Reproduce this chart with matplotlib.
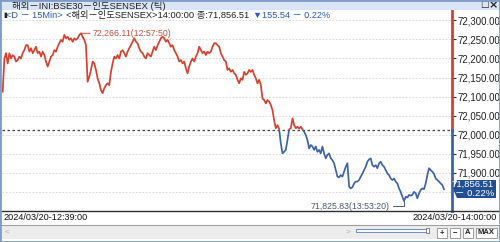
import matplotlib.pyplot as plt
import numpy as np
from matplotlib.patches import Rectangle, Polygon
from matplotlib.lines import Line2D

plt.rcParams['font.family'] = ['Liberation Sans', 'Noto Sans CJK KR', 'DejaVu Sans']

# tick-by-tick prices (12:39:00 -> 14:00:00)
prices = [
    72113, 72200, 72214, 72187, 72214, 72200, 72209, 72205, 72192, 72196,
    72205, 72200, 72214, 72222, 72235, 72235, 72218, 72227, 72214, 72222,
    72231, 72214, 72218, 72205, 72218, 72209, 72192, 72179, 72192, 72205,
    72209, 72222, 72218, 72231, 72240, 72249, 72244, 72262, 72253, 72257,
    72249, 72253, 72244, 72253, 72249, 72253, 72262, 72266.11, 72257, 72249,
    72235, 72139, 72152, 72170, 72192, 72187, 72170, 72148, 72135, 72117,
    72109, 72122, 72130, 72135, 72130, 72165, 72187, 72205, 72200, 72209,
    72200, 72218, 72222, 72214, 72205, 72218, 72227, 72235, 72244, 72253,
    72244, 72240, 72227, 72218, 72214, 72205, 72200, 72214, 72209, 72205,
    72218, 72231, 72222, 72235, 72244, 72253, 72257, 72253, 72244, 72249,
    72240, 72231, 72235, 72222, 72214, 72205, 72192, 72196, 72187, 72192,
    72174, 72161, 72179, 72192, 72200, 72192, 72205, 72214, 72231, 72222,
    72214, 72218, 72209, 72218, 72214, 72218, 72231, 72240, 72240, 72235,
    72231, 72214, 72205, 72196, 72192, 72170, 72174, 72165, 72170, 72161,
    72157, 72144, 72135, 72148, 72144, 72165, 72157, 72161, 72170,
    72165, 72170, 72157, 72148, 72135, 72144, 72130, 72095, 72091, 72082,
    72091, 72087, 72078, 72065, 72038,
    72017, 72025, 72015, 71977, 71951, 71955, 71960, 71986, 72014, 72017,
    72043, 72025, 72017, 72021, 72016, 72021, 72014, 72008, 71999, 71986,
    71964, 71973, 71969, 71960, 71969, 71955, 71960, 71951, 71969, 71951,
    71938, 71947, 71951, 71938, 71933, 71925, 71907, 71890, 71888, 71894,
    71890, 71903, 71916, 71925, 71864, 71859, 71862, 71872, 71877, 71877,
    71881, 71890, 71898, 71907, 71916, 71929, 71935, 71938, 71920, 71916,
    71920, 71912, 71925, 71929, 71920, 71916, 71907, 71898, 71894, 71885,
    71881, 71885, 71877, 71872, 71859, 71850, 71837, 71825.83, 71837, 71835,
    71842, 71840, 71842, 71850, 71846, 71833, 71846, 71855, 71859, 71857,
    71872, 71894, 71912, 71907, 71903, 71897, 71885, 71881, 71877, 71872,
    71868, 71856.51,
]
prev_close = 72012.05
grid_levels = [71850, 71900, 71950, 72000, 72050, 72100, 72150, 72200, 72250, 72300]
tick_levels = [71900, 71950, 72000, 72050, 72100, 72150, 72200, 72250, 72300]
start_label = "2024/03/20-12:39:00"
end_label = "2024/03/20-14:00:00"
max_time = "12:57:50"
min_time = "13:53:20"
title = "해외－INI:BSE30－인도SENSEX (틱)"

RED = '#d8402e'
BLUE = '#3f63ab'
W, H = 500, 242


def fx(x):
    return x / W


def fy(y):
    return 1 - y / H


def main():
    fig = plt.figure(figsize=(5, 2.42), dpi=100)
    fig.patch.set_facecolor('white')
    ax = fig.add_axes([fx(2), fy(211), 450 / W, 201 / H])

    n = len(prices)
    x = np.arange(n)
    dx = (444 - 2.7) / (n - 1)
    xmin, xmax = (2 - 2.7) / dx, (452 - 2.7) / dx
    ymin, ymax = 71799.7, 72327.3
    ax.set_xlim(xmin, xmax)
    ax.set_ylim(ymin, ymax)

    for g in grid_levels:
        ax.axhline(g, color='#d4d4d4', lw=0.6, ls=(0, (2, 2)), zorder=1)
    ax.axhline(prev_close, color='#404040', lw=0.9, ls=(0, (2, 2)), zorder=2)

    up = Rectangle((xmin, prev_close), xmax - xmin, ymax - prev_close,
                   transform=ax.transData)
    dn = Rectangle((xmin, ymin), xmax - xmin, prev_close - ymin,
                   transform=ax.transData)
    lr, = ax.plot(x, prices, color=RED, lw=1.25, zorder=3)
    lr.set_clip_path(up)
    lb, = ax.plot(x, prices, color=BLUE, lw=1.25, zorder=3)
    lb.set_clip_path(dn)

    # right axis line, red above / blue below previous close
    ax.plot([xmax, xmax], [prev_close, ymax], color=RED, lw=2, clip_on=False, zorder=4)
    ax.plot([xmax, xmax], [ymin, prev_close], color=BLUE, lw=2, clip_on=False, zorder=4)

    for s in ax.spines.values():
        s.set_visible(False)
    ax.set_xticks([])
    ax.set_yticks(tick_levels)
    ax.set_yticklabels([f"{v:,.2f}" for v in tick_levels])
    ax.tick_params(axis='y', left=False, labelleft=False, right=True, labelright=True,
                   length=3, width=0.8, color='#333333', pad=1, labelsize=6.9,
                   labelcolor='#202020')

    # max / min annotations
    imax = int(np.argmax(prices))
    imin = int(np.argmin(prices))
    ax.annotate(f"{prices[imax]:,.2f}({max_time})", xy=(imax, prices[imax]),
                xytext=(12, 0), textcoords='offset pixels', ha='left', va='center',
                fontsize=6.3, color='#c8503c',
                arrowprops=dict(arrowstyle='-', color='#c8503c', lw=0.7,
                                shrinkA=0, shrinkB=0))
    ax.annotate(f"{prices[imin]:,.2f}({min_time})", xy=(imin, prices[imin]),
                xytext=(-14, -5), textcoords='offset pixels', ha='right', va='center',
                fontsize=6.3, color='#4a5a80', annotation_clip=False,
                arrowprops=dict(arrowstyle='-', color='#4a5a80', lw=0.7,
                                connectionstyle='angle,angleA=0,angleB=90,rad=0',
                                shrinkA=0, shrinkB=0))

    # title bar
    fig.patches.append(Rectangle((0, fy(9.5)), 1, 9.5 / H, transform=fig.transFigure,
                                 facecolor='#d9e5f4', edgecolor='none', zorder=1))
    fig.text(fx(12), fy(5.6), title, fontsize=6.8, va='center', ha='left', color='#222222')
    fig.text(fx(484), fy(5), "□", fontsize=6.5, va='center', ha='center',
             color='#222222', family=['DejaVu Sans'])
    fig.text(fx(493), fy(5), "×", fontsize=8, va='center', ha='center',
             color='#222222', fontweight='bold', family=['DejaVu Sans'])

    # legend row
    fig.patches.append(Rectangle((fx(3), fy(20)), 322 / W, 10 / H, transform=fig.transFigure,
                                 facecolor='white', edgecolor='none', zorder=1))
    fig.text(fx(3), fy(15), "▮", fontsize=5, va='center', ha='left', color='#222222',
             family=['DejaVu Sans'])
    fig.text(fx(6), fy(15), "<D － 15Min>", fontsize=6.6, va='center', ha='left',
             color='#2c58b0')
    fig.text(fx(66), fy(15), "<해외－인도SENSEX>14:00:00 종:71,856.51", fontsize=6.7,
             va='center', ha='left', color='#222222')
    fig.text(fx(253), fy(15), "▼155.54 － 0.22%", fontsize=6.6, va='center', ha='left',
             color='#2c58c0')

    # current price box
    fig.patches.append(Polygon([(fx(453), fy(189)), (fx(457), fy(180)), (fx(496), fy(180)),
                                (fx(496), fy(198)), (fx(457), fy(198))], closed=True,
                               transform=fig.transFigure, facecolor='#214f92',
                               edgecolor='none', zorder=2))
    fig.text(fx(494), fy(184.5), "71,856.51", fontsize=6.8, color='white', ha='right',
             va='center', zorder=3)
    fig.text(fx(494), fy(193.5), "－ 0.22%", fontsize=6.8, color='white', ha='right',
             va='center', zorder=3)

    # time axis row
    fig.add_artist(Line2D([0, 1], [fy(211), fy(211)], color='#303030', lw=1))
    fig.text(fx(3), fy(218), start_label, fontsize=6.6, va='center', ha='left', color='#111111')
    fig.text(fx(497), fy(218), end_label, fontsize=6.6, va='center', ha='right', color='#111111')

    # scroll bar row
    fig.patches.append(Rectangle((0, fy(239)), 1, 14 / H, transform=fig.transFigure,
                                 facecolor='#ececec', edgecolor='none', zorder=1))
    fig.add_artist(Line2D([0, 1], [fy(225), fy(225)], color='#a0a0a0', lw=0.8))
    fig.text(fx(7), fy(232.5), "<", fontsize=6, color='#b0b0b0', va='center', ha='center')
    fig.text(fx(348), fy(232.5), ">", fontsize=6, color='#b0b0b0', va='center', ha='center')
    fig.patches.append(Rectangle((fx(356), fy(231.5)), 72 / W, 2.5 / H, transform=fig.transFigure,
                                 facecolor='#f8f8f8', edgecolor='#6080a8', lw=0.6, zorder=2))
    fig.patches.append(Rectangle((fx(426), fy(233)), 3 / W, 5 / H, transform=fig.transFigure,
                                 facecolor='white', edgecolor='#707070', lw=0.6, zorder=3))
    for i, lab in enumerate(["+", "−", "A", "MAX"]):
        x0 = [437, 450, 463, 476][i]
        w = [10, 10, 10, 21][i]
        fig.patches.append(Rectangle((fx(x0), fy(238)), w / W, 10 / H, transform=fig.transFigure,
                                     facecolor='white', edgecolor='#909090', lw=0.6, zorder=2))
        fig.text(fx(x0 + w / 2), fy(233), lab, fontsize=5.5, fontweight='bold',
                 color='#202020', ha='center', va='center', zorder=3)

    # window border
    fig.patches.append(Rectangle((0, 0), 1, 1, transform=fig.transFigure, facecolor='none',
                                 edgecolor='#7f9cc6', lw=2, zorder=5))

    fig.savefig('out.png', dpi=100)


if __name__ == '__main__':
    main()
